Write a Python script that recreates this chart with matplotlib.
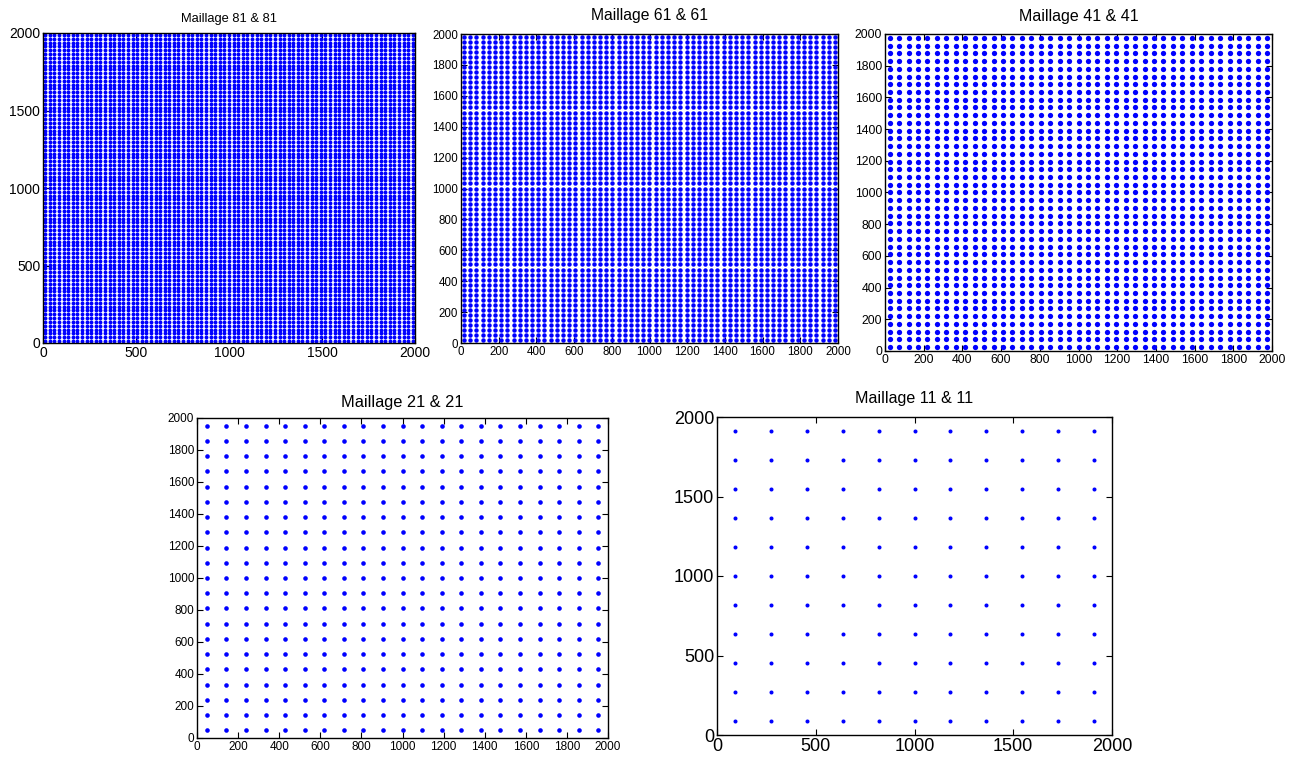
"""
Cell-centre meshes of the 2000 x 2000 domain for five mesh resolutions.
Saves out.png.
"""
import numpy as np
import matplotlib
matplotlib.use("Agg")
import matplotlib.pyplot as plt

plt.rcParams["font.family"] = ["Liberation Sans", "DejaVu Sans"]

W, H = 1297, 758
DOMAIN = 2000

# mesh counts per panel (nx, ny)
MESHES = [81, 61, 41, 21, 11]
TITLES = ["Maillage 81 & 81", "Maillage 61 & 61", "Maillage 41 & 41",
          "Maillage 21 & 21", "Maillage 11 & 11"]
TICK_STEP = [500, 200, 200, 200, 500]

# panel boxes in pixels: left, top, right, bottom
BOXES = [(43, 33, 415, 343), (461, 34, 838, 343), (885, 34, 1272, 351),
         (197, 418, 608, 738), (717, 417, 1112, 735)]
TICK_FS = [10, 8.3, 8.8, 8.5, 13]
TITLE_FS = [9.3, 11.3, 11.5, 11.8, 11.6]
TITLE_PAD = [8, 10, 9, 8, 10]
MS = [2.8, 3.2, 3.8, 3.3, 2.9]


def centres(n):
    h = DOMAIN / n
    return np.arange(n) * h + h / 2


fig = plt.figure(figsize=(W / 100, H / 100), dpi=100)
for n, title, step, (l, t, r, b), tfs, ttl, tpad, ms in zip(
        MESHES, TITLES, TICK_STEP, BOXES, TICK_FS, TITLE_FS, TITLE_PAD, MS):
    ax = fig.add_axes([l / W, 1 - b / H, (r - l) / W, (b - t) / H])
    xx, yy = np.meshgrid(centres(n), centres(n))
    ax.plot(xx.ravel(), yy.ravel(), "o", color="#0000ff", ms=ms, mew=0)
    ax.set_xlim(0, DOMAIN)
    ax.set_ylim(0, DOMAIN)
    ax.set_xticks(np.arange(0, DOMAIN + 1, step))
    ax.set_yticks(np.arange(0, DOMAIN + 1, step))
    ax.tick_params(direction="in", top=True, right=True, length=4, width=0.8,
                   labelsize=tfs, pad=2)
    for s in ax.spines.values():
        s.set_linewidth(1.0)
    ax.set_title(title, fontsize=ttl, pad=tpad)

fig.savefig("out.png", dpi=100)
